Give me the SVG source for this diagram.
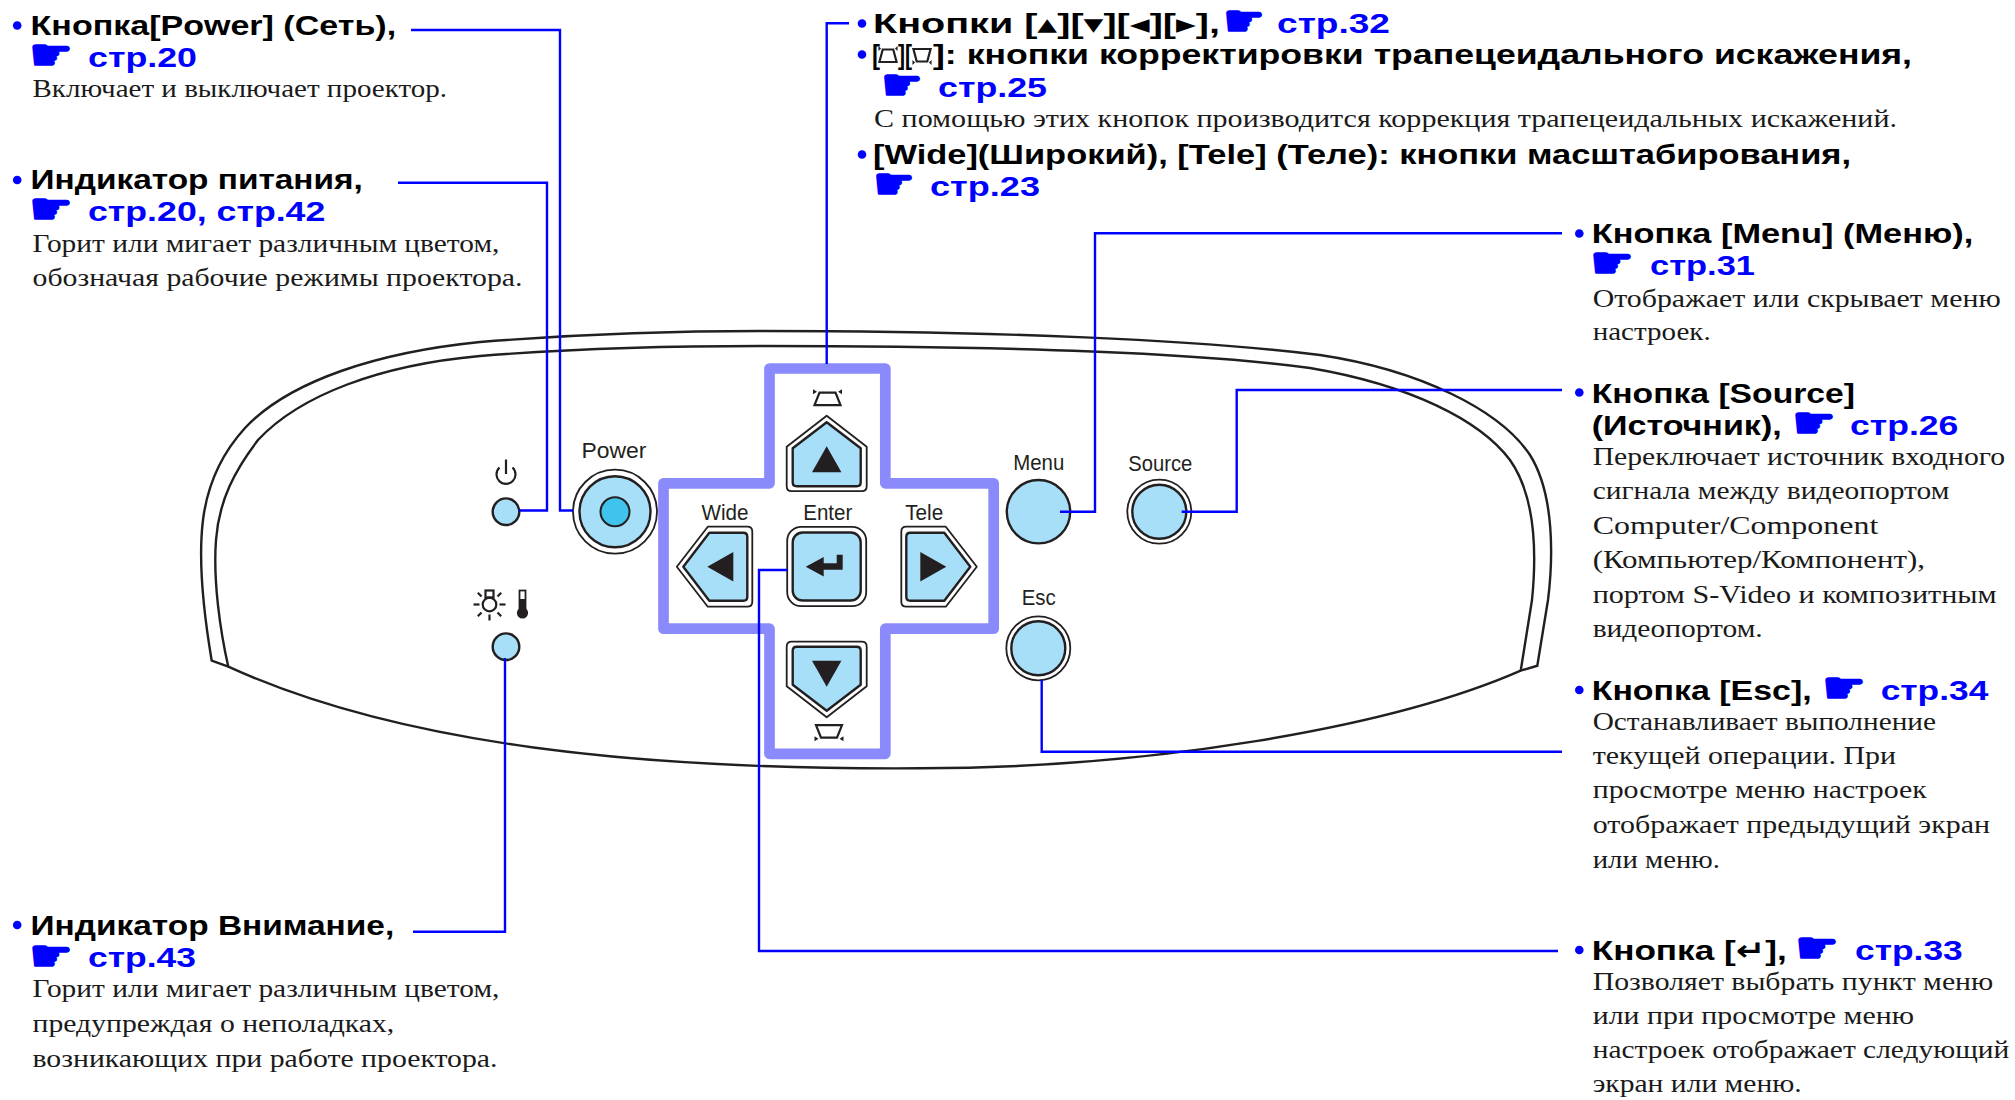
<svg xmlns="http://www.w3.org/2000/svg" xmlns:xlink="http://www.w3.org/1999/xlink" width="2015" height="1100" viewBox="0 0 2015 1100">
  <style>
    .h { font-family: "Liberation Sans", Arial, "DejaVu Sans", sans-serif; font-weight: bold; font-size: 28px; fill: #000; }
    .hc { font-family: "Liberation Sans", Arial, "DejaVu Sans", sans-serif; font-weight: bold; font-size: 27px; fill: #000; }
    .ref { font-family: "Liberation Sans", Arial, sans-serif; font-weight: bold; font-size: 28px; fill: #0000ff; }
    .hand { font-family: "DejaVu Sans", sans-serif; font-size: 44px; fill: #0000ff; stroke: #0000ff; stroke-width: 1.6; stroke-linejoin: round; }
    .d { font-family: "Liberation Serif", "Times New Roman", serif; font-size: 25px; fill: #1a1a1a; }
    .lbl { font-family: "Liberation Sans", Arial, sans-serif; font-size: 22px; fill: #231f20; text-anchor: middle; }
    .bullet { fill: #0000ff; }
    .conn { fill: none; stroke: #0000ff; stroke-width: 2.4; }
    .panel { fill: none; stroke: #231f20; stroke-width: 2.4; }
    .key { fill: #a8dff8; stroke: #231f20; stroke-width: 2.4; stroke-linejoin: round; }
    .ring { fill: #ffffff; stroke: #231f20; stroke-width: 1.8; stroke-linejoin: round; }
    .ink { fill: #231f20; }
    .icon { fill: none; stroke: #231f20; stroke-width: 2.2; }
    .cross { fill: none; stroke: #8a8afc; stroke-width: 10.7; stroke-linejoin: round; }
  </style>
  <defs>
    <!-- arrow key body, pointing up, centred on its own middle -->
    <path id="arrowOuter" d="M 0,-38.5 L 40,-7.5 L 40,32 Q 40,37 35,37 L -35,37 Q -40,37 -40,32 L -40,-7.5 Z"/>
    <path id="arrowInner" d="M 0,-32 L 34,-6 L 34,28 Q 34,32 30,32 L -30,32 Q -34,32 -34,28 L -34,-6 Z"/>
    <path id="arrowGlyph" d="M -14.7,18 L 14.7,18 L 0,-8 Z"/>
    <!-- keystone symbols -->
    <g id="ksUp">
      <path d="M -8,-6 L 8,-6 L 13,6.5 L -13,6.5 Z" fill="none" stroke="#231f20" stroke-width="2.2" vector-effect="non-scaling-stroke"/>
      <path d="M -14.5,-9.5 L -10.5,-7 L -14.5,-4.5 Z M 14.5,-9.5 L 10.5,-7 L 14.5,-4.5 Z" fill="#231f20"/>
    </g>
    <g id="ksDown">
      <path d="M -13,-6.5 L 13,-6.5 L 8,6 L -8,6 Z" fill="none" stroke="#231f20" stroke-width="2.2" vector-effect="non-scaling-stroke"/>
      <path d="M -14.5,9.5 L -10.5,7 L -14.5,4.5 Z M 14.5,9.5 L 10.5,7 L 14.5,4.5 Z" fill="#231f20"/>
    </g>
  </defs>

  <rect width="2015" height="1100" fill="#ffffff"/>

  <!-- projector control panel outline -->
  <g id="panel">
    <path class="panel" d="M 211.7,660.7 C 204,615 198,560 203,520 C 208,480 225,450 245,428 C 290,380 380,352 480,342 C 580,334 680,331 760,331 C 1000,331 1200,340 1320,355 C 1420,370 1500,410 1530,455 C 1555,495 1553,560 1548,600 L 1537.3,665.7 L 1520.7,670.7 C 1390,728 1150,768 920,768.3 C 640,770 400,745 228.3,666.7 Z"/>
    <path class="panel" d="M 228.3,666.7 C 220,630 213,580 216,540 C 219,500 235,470 258,440 C 300,395 380,365 480,356 C 580,348 680,346 760,346 C 1000,346 1200,353 1310,368 C 1410,385 1480,420 1510,460 C 1538,500 1536,560 1532,600 L 1520.7,670.7"/>
  </g>

  <!-- power indicator -->
  <g id="power-led">
    <path class="icon" d="M 499.5,467.5 A 9.5,9.5 0 1 0 512.5,467.5"/>
    <line class="icon" x1="506" y1="459.5" x2="506" y2="474"/>
    <circle class="key" cx="506" cy="511.7" r="13.3" stroke-width="2"/>
  </g>

  <!-- warning indicator: lamp and temperature -->
  <g id="warning-led">
    <circle class="icon" cx="489.5" cy="604.5" r="6.8" stroke-width="2.8"/>
    <rect class="icon" x="485.5" y="590.5" width="8" height="7" stroke-width="2.2"/>
    <g class="icon" stroke-width="2.6">
      <line x1="473.5" y1="604.5" x2="479.5" y2="604.5"/>
      <line x1="499.5" y1="604.5" x2="505.5" y2="604.5"/>
      <line x1="489.5" y1="614.5" x2="489.5" y2="620.5"/>
      <line x1="477.8" y1="592.8" x2="481.5" y2="596.5"/>
      <line x1="501.2" y1="592.8" x2="497.5" y2="596.5"/>
      <line x1="477.8" y1="616.2" x2="481.5" y2="612.5"/>
      <line x1="501.2" y1="616.2" x2="497.5" y2="612.5"/>
    </g>
    <rect x="519.5" y="590.5" width="6" height="20" fill="#ffffff" stroke="#231f20" stroke-width="1.8"/>
    <rect class="ink" x="519.5" y="599" width="6" height="12"/>
    <circle class="ink" cx="522.5" cy="613" r="5.6"/>
    <circle class="key" cx="506" cy="646.7" r="13.3" stroke-width="2"/>
  </g>

  <!-- power button -->
  <g id="power-button">
    <text class="lbl" x="614" y="457.7" textLength="65" lengthAdjust="spacingAndGlyphs">Power</text>
    <circle class="ring" cx="615" cy="511.7" r="42"/>
    <circle class="key" cx="615" cy="511.7" r="35.5"/>
    <circle cx="615" cy="511.7" r="14.5" fill="#40c4ee" stroke="#231f20" stroke-width="2"/>
  </g>

  <!-- direction pad -->
  <g id="dpad">
    <path class="cross" d="M 769.5,368.5 H 885.3 V 483.3 H 993.7 V 628.7 H 885.3 V 753.8 H 769.5 V 628.7 H 663.5 V 483.3 H 769.5 Z"/>
    <use xlink:href="#ksUp" transform="translate(827.5,398.7)"/>
    <use xlink:href="#ksDown" transform="translate(829,731.7)"/>
    <text class="lbl" x="725" y="520" textLength="47" lengthAdjust="spacingAndGlyphs">Wide</text>
    <text class="lbl" x="827.8" y="520" textLength="49" lengthAdjust="spacingAndGlyphs">Enter</text>
    <text class="lbl" x="924.2" y="520" textLength="38" lengthAdjust="spacingAndGlyphs">Tele</text>
    <g id="key-up" transform="translate(826.7,454.2)">
      <use xlink:href="#arrowOuter" class="ring"/>
      <use xlink:href="#arrowInner" class="key"/>
      <use xlink:href="#arrowGlyph" class="ink"/>
    </g>
    <g id="key-down" transform="translate(826.7,678.7) rotate(180)">
      <use xlink:href="#arrowOuter" class="ring"/>
      <use xlink:href="#arrowInner" class="key"/>
      <use xlink:href="#arrowGlyph" class="ink"/>
    </g>
    <g id="key-left" transform="translate(715.3,566.7) rotate(-90)">
      <use xlink:href="#arrowOuter" class="ring"/>
      <use xlink:href="#arrowInner" class="key"/>
      <use xlink:href="#arrowGlyph" class="ink"/>
    </g>
    <g id="key-right" transform="translate(938.3,566.7) rotate(90)">
      <use xlink:href="#arrowOuter" class="ring"/>
      <use xlink:href="#arrowInner" class="key"/>
      <use xlink:href="#arrowGlyph" class="ink"/>
    </g>
    <g id="key-enter" transform="translate(826.7,566.5)">
      <rect class="ring" x="-39.5" y="-39.7" width="79" height="79.4" rx="14"/>
      <rect class="key" x="-34" y="-34" width="68" height="68" rx="10"/>
      <path class="ink" d="M -21,0.3 L -3,-9.5 L -3,-3.3 L 10,-3.3 L 10,-11.7 L 16,-11.7 L 16,3.3 L -3,3.3 L -3,10 Z"/>
    </g>
  </g>

  <!-- menu / source / esc buttons -->
  <g id="menu-button">
    <text class="lbl" x="1038.8" y="470" textLength="51" lengthAdjust="spacingAndGlyphs">Menu</text>
    <circle class="key" cx="1038.5" cy="511.7" r="31.7" stroke-width="2.2"/>
  </g>
  <g id="source-button">
    <text class="lbl" x="1160.3" y="470.7" textLength="64" lengthAdjust="spacingAndGlyphs">Source</text>
    <circle class="ring" cx="1159.3" cy="511.7" r="32"/>
    <circle class="key" cx="1159.3" cy="511.7" r="27"/>
  </g>
  <g id="esc-button">
    <text class="lbl" x="1038.7" y="605" textLength="34" lengthAdjust="spacingAndGlyphs">Esc</text>
    <circle class="ring" cx="1038.3" cy="648.3" r="32"/>
    <circle class="key" cx="1038.3" cy="648.3" r="27"/>
  </g>

  <!-- leader lines -->
  <g id="connectors">
    <path class="conn" d="M 411,30 H 560 V 510.5 H 573"/>
    <path class="conn" d="M 398,182.7 H 547 V 510.5 H 519.3"/>
    <path class="conn" d="M 413,931.7 H 505 V 658"/>
    <path class="conn" d="M 849,23.3 H 826.7 V 364"/>
    <path class="conn" d="M 1562,233.3 H 1095 V 511.7 H 1060"/>
    <path class="conn" d="M 1562,390 H 1236.7 V 511.7 H 1181.7"/>
    <path class="conn" d="M 1562,751.7 H 1041.7 V 680"/>
    <path class="conn" d="M 1558,951 H 759 V 570 H 787.7"/>
  </g>

  <!-- callout: power button -->
  <g id="note-power">
    <circle class="bullet" cx="17.2" cy="25.5" r="4.3"/>
    <text class="h" x="30.6" y="35" textLength="365.5" lengthAdjust="spacingAndGlyphs">Кнопка[Power] (Сеть),</text>
    <text class="hand" x="29" y="70" textLength="44" lengthAdjust="spacingAndGlyphs">☛</text>
    <text class="ref" x="88" y="66.7" textLength="109" lengthAdjust="spacingAndGlyphs">стр.20</text>
    <text class="d" x="32.5" y="96.7" textLength="414.5" lengthAdjust="spacingAndGlyphs">Включает и выключает проектор.</text>
  </g>

  <!-- callout: power indicator -->
  <g id="note-power-led">
    <circle class="bullet" cx="17.2" cy="180" r="4.3"/>
    <text class="h" x="30.6" y="189.3" textLength="332.2" lengthAdjust="spacingAndGlyphs">Индикатор питания,</text>
    <text class="hand" x="29" y="224" textLength="44" lengthAdjust="spacingAndGlyphs">☛</text>
    <text class="ref" x="88" y="220.7" textLength="237.3" lengthAdjust="spacingAndGlyphs">стр.20, стр.42</text>
    <text class="d" x="32.5" y="251.7" textLength="466.9" lengthAdjust="spacingAndGlyphs">Горит или мигает различным цветом,</text>
    <text class="d" x="32.5" y="286" textLength="489.9" lengthAdjust="spacingAndGlyphs">обозначая рабочие режимы проектора.</text>
  </g>

  <!-- callout: warning indicator -->
  <g id="note-warning">
    <circle class="bullet" cx="17.2" cy="925" r="4.3"/>
    <text class="h" x="30.6" y="935" textLength="363.6" lengthAdjust="spacingAndGlyphs">Индикатор Внимание,</text>
    <text class="hand" x="29" y="970.6" textLength="44" lengthAdjust="spacingAndGlyphs">☛</text>
    <text class="ref" x="88" y="967.3" textLength="108" lengthAdjust="spacingAndGlyphs">стр.43</text>
    <text class="d" x="32.5" y="997.3" textLength="466.9" lengthAdjust="spacingAndGlyphs">Горит или мигает различным цветом,</text>
    <text class="d" x="32.5" y="1031.7" textLength="361.7" lengthAdjust="spacingAndGlyphs">предупреждая о неполадках,</text>
    <text class="d" x="32.5" y="1066.7" textLength="465" lengthAdjust="spacingAndGlyphs">возникающих при работе проектора.</text>
  </g>

  <!-- callout: direction, keystone and zoom keys -->
  <g id="note-dpad">
    <circle class="bullet" cx="862" cy="23.5" r="4.3"/>
    <text class="hc" x="873" y="33.3" textLength="347" lengthAdjust="spacingAndGlyphs">Кнопки [▴][▾][◂][▸],</text>
    <text class="hand" x="1223" y="36.3" textLength="42" lengthAdjust="spacingAndGlyphs">☛</text>
    <text class="ref" x="1277" y="33.3" textLength="113" lengthAdjust="spacingAndGlyphs">стр.32</text>
    <circle class="bullet" cx="862" cy="54.5" r="4.3"/>
    <text class="hc" x="872" y="64" textLength="8" lengthAdjust="spacingAndGlyphs">[</text>
    <use xlink:href="#ksUp" transform="translate(888,55.5) scale(0.66,1)"/>
    <text class="hc" x="898" y="64" textLength="14" lengthAdjust="spacingAndGlyphs">][</text>
    <use xlink:href="#ksDown" transform="translate(922,55.5) scale(0.66,1)"/>
    <text class="hc" x="933" y="64" textLength="979" lengthAdjust="spacingAndGlyphs">]: кнопки корректировки трапецеидального искажения,</text>
    <text class="hand" x="881" y="100.3" textLength="42" lengthAdjust="spacingAndGlyphs">☛</text>
    <text class="ref" x="938" y="97" textLength="109" lengthAdjust="spacingAndGlyphs">стр.25</text>
    <text class="d" x="874" y="127" textLength="1023" lengthAdjust="spacingAndGlyphs">С помощью этих кнопок производится коррекция трапецеидальных искажений.</text>
    <circle class="bullet" cx="862" cy="154.5" r="4.3"/>
    <text class="hc" x="873" y="164" textLength="978" lengthAdjust="spacingAndGlyphs">[Wide](Широкий), [Tele] (Теле): кнопки масштабирования,</text>
    <text class="hand" x="873" y="199.3" textLength="42" lengthAdjust="spacingAndGlyphs">☛</text>
    <text class="ref" x="930" y="196" textLength="110" lengthAdjust="spacingAndGlyphs">стр.23</text>
  </g>

  <!-- callout: menu button -->
  <g id="note-menu">
    <circle class="bullet" cx="1579.3" cy="233.5" r="4.3"/>
    <text class="h" x="1591.7" y="243.3" textLength="381.6" lengthAdjust="spacingAndGlyphs">Кнопка [Menu] (Меню),</text>
    <text class="hand" x="1590" y="278.3" textLength="44" lengthAdjust="spacingAndGlyphs">☛</text>
    <text class="ref" x="1650" y="275" textLength="105" lengthAdjust="spacingAndGlyphs">стр.31</text>
    <text class="d" x="1592.7" y="306.7" textLength="408" lengthAdjust="spacingAndGlyphs">Отображает или скрывает меню</text>
    <text class="d" x="1592.7" y="340" textLength="118" lengthAdjust="spacingAndGlyphs">настроек.</text>
  </g>

  <!-- callout: source button -->
  <g id="note-source">
    <circle class="bullet" cx="1579.3" cy="392.5" r="4.3"/>
    <text class="h" x="1591.7" y="402.7" textLength="263.3" lengthAdjust="spacingAndGlyphs">Кнопка [Source]</text>
    <text class="h" x="1591.7" y="435" textLength="190" lengthAdjust="spacingAndGlyphs">(Источник),</text>
    <text class="hand" x="1792" y="438.3" textLength="44" lengthAdjust="spacingAndGlyphs">☛</text>
    <text class="ref" x="1850" y="435" textLength="108.3" lengthAdjust="spacingAndGlyphs">стр.26</text>
    <text class="d" x="1592.7" y="465" textLength="412.3" lengthAdjust="spacingAndGlyphs">Переключает источник входного</text>
    <text class="d" x="1592.7" y="499.3" textLength="356.6" lengthAdjust="spacingAndGlyphs">сигнала между видеопортом</text>
    <text class="d" x="1592.7" y="534" textLength="285.6" lengthAdjust="spacingAndGlyphs">Computer/Component</text>
    <text class="d" x="1592.7" y="568.3" textLength="332.3" lengthAdjust="spacingAndGlyphs">(Компьютер/Компонент),</text>
    <text class="d" x="1592.7" y="602.7" textLength="404" lengthAdjust="spacingAndGlyphs">портом S-Video и композитным</text>
    <text class="d" x="1592.7" y="636.7" textLength="170" lengthAdjust="spacingAndGlyphs">видеопортом.</text>
  </g>

  <!-- callout: esc button -->
  <g id="note-esc">
    <circle class="bullet" cx="1579.3" cy="690" r="4.3"/>
    <text class="h" x="1591.7" y="700" textLength="220" lengthAdjust="spacingAndGlyphs">Кнопка [Esc],</text>
    <text class="hand" x="1822" y="703.3" textLength="44" lengthAdjust="spacingAndGlyphs">☛</text>
    <text class="ref" x="1880.7" y="700" textLength="107.6" lengthAdjust="spacingAndGlyphs">стр.34</text>
    <text class="d" x="1592.7" y="730" textLength="343.3" lengthAdjust="spacingAndGlyphs">Останавливает выполнение</text>
    <text class="d" x="1592.7" y="764" textLength="303.3" lengthAdjust="spacingAndGlyphs">текущей операции. При</text>
    <text class="d" x="1592.7" y="798.3" textLength="334" lengthAdjust="spacingAndGlyphs">просмотре меню настроек</text>
    <text class="d" x="1592.7" y="833.3" textLength="397.3" lengthAdjust="spacingAndGlyphs">отображает предыдущий экран</text>
    <text class="d" x="1592.7" y="868.3" textLength="127.3" lengthAdjust="spacingAndGlyphs">или меню.</text>
  </g>

  <!-- callout: enter button -->
  <g id="note-enter">
    <circle class="bullet" cx="1579.3" cy="950" r="4.3"/>
    <text class="h" x="1591.7" y="960" textLength="195" lengthAdjust="spacingAndGlyphs">Кнопка [↵],</text>
    <text class="hand" x="1795" y="963.3" textLength="44" lengthAdjust="spacingAndGlyphs">☛</text>
    <text class="ref" x="1855" y="960" textLength="107.7" lengthAdjust="spacingAndGlyphs">стр.33</text>
    <text class="d" x="1592.7" y="990" textLength="400.6" lengthAdjust="spacingAndGlyphs">Позволяет выбрать пункт меню</text>
    <text class="d" x="1592.7" y="1024" textLength="321.3" lengthAdjust="spacingAndGlyphs">или при просмотре меню</text>
    <text class="d" x="1592.7" y="1058.3" textLength="416.6" lengthAdjust="spacingAndGlyphs">настроек отображает следующий</text>
    <text class="d" x="1592.7" y="1091.7" textLength="209" lengthAdjust="spacingAndGlyphs">экран или меню.</text>
  </g>
</svg>
